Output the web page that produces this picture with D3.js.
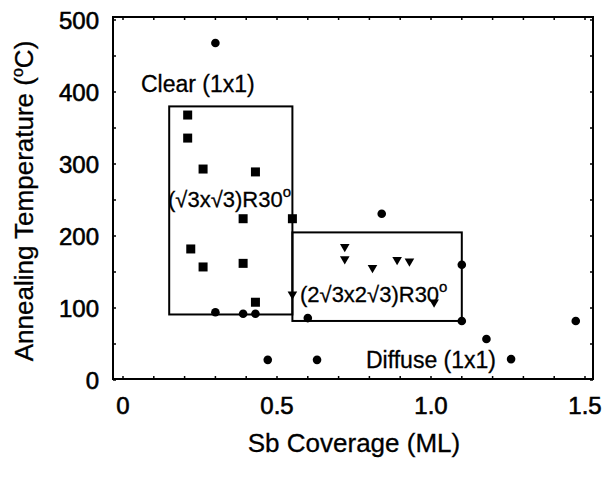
<!DOCTYPE html>
<html><head><meta charset="utf-8">
<script src="https://cdn.jsdelivr.net/npm/d3@7"></script>
<style>
body{margin:0;background:#fff;}
text{font-family:"Liberation Sans",Arial,Helvetica,sans-serif;fill:#000;stroke:#000;stroke-width:0.3px;}
</style></head>
<body><svg id="c" width="608" height="479"></svg>
<script>
// ---- data ----
const xTickValues = [0, 0.5, 1.0, 1.5];
const xTickLabels = ["0", "0.5", "1.0", "1.5"];
const yTickValues = [0, 100, 200, 300, 400, 500];
const yTickLabels = ["0", "100", "200", "300", "400", "500"];

// (√3x√3)R30° phase – squares
const sqX = [0.21, 0.21, 0.26, 0.43, 0.39, 0.55, 0.22, 0.26, 0.39, 0.43];
const sqT = [368, 336, 293, 289, 224, 224, 182, 157, 162, 108];
// (2√3x2√3)R30° phase – down triangles
const triX = [0.55, 0.72, 0.72, 0.81, 0.89, 0.93, 1.01];
const triT = [119, 185, 168, 156, 167, 165, 108];
// Diffuse (1x1) – circles
const cirX = [0.30, 0.30, 0.39, 0.43, 0.60, 0.84, 1.10, 1.10, 0.47, 0.63, 1.18, 1.26, 1.47];
const cirT = [468, 94, 92, 92, 86, 231, 160, 82, 28, 28, 57, 29, 82];

// phase boxes [x0, x1, T0, T1]
const boxSqrt3 = [0.15, 0.55, 91, 380];
const box2Sqrt3 = [0.55, 1.10, 82, 205];

const xTitle = "Sb Coverage (ML)";
const yTitle = "Annealing Temperature (";

// ---- layout ----
const svg = d3.select("#c");
const frame = {l:113, r:593, t:17, b:379};
const x = d3.scaleLinear().domain([0, 1.5]).range([123, 585]);
const y = d3.scaleLinear().domain([0, 500]).range([380, 20]);

// frame
svg.append("rect").attr("x", frame.l).attr("y", frame.t)
  .attr("width", frame.r - frame.l).attr("height", frame.b - frame.t)
  .attr("fill", "none").attr("stroke", "#000").attr("stroke-width", 2);

// small inward ticks
const g = svg.append("g");
d3.range(0, 501, 50).forEach(v => {
  g.append("line").attr("x1", frame.l).attr("x2", frame.l + 3)
    .attr("y1", y(v)).attr("y2", y(v)).attr("stroke", "#000").attr("stroke-width", 1.5);
  g.append("line").attr("x1", frame.r).attr("x2", frame.r - 3)
    .attr("y1", y(v)).attr("y2", y(v)).attr("stroke", "#000").attr("stroke-width", 1.5);
});
d3.range(0, 1.51, 0.1).forEach(v => {
  g.append("line").attr("x1", x(v)).attr("x2", x(v))
    .attr("y1", frame.b).attr("y2", frame.b - 3).attr("stroke", "#000").attr("stroke-width", 1.5);
  g.append("line").attr("x1", x(v)).attr("x2", x(v))
    .attr("y1", frame.t).attr("y2", frame.t + 3).attr("stroke", "#000").attr("stroke-width", 1.5);
});

// tick labels
svg.append("g").selectAll("text").data(yTickValues).join("text")
  .attr("x", 99).attr("y", d => y(d) + 9)
  .attr("text-anchor", "end").attr("font-size", 24)
  .style("stroke-width", "0.6px")
  .text((d, i) => yTickLabels[i]);
svg.append("g").selectAll("text").data(xTickValues).join("text")
  .attr("x", d => x(d)).attr("y", 414)
  .attr("text-anchor", "middle").attr("font-size", 24)
  .style("stroke-width", "0.6px")
  .text((d, i) => xTickLabels[i]);

// axis titles
svg.append("text").attr("x", 354).attr("y", 452)
  .attr("text-anchor", "middle").attr("font-size", 26).text(xTitle);
const yt = svg.append("text").attr("transform", "translate(33,201) rotate(-90)")
  .attr("text-anchor", "middle").attr("font-size", 26);
yt.append("tspan").text(yTitle);
yt.append("tspan").attr("font-size", 16).attr("dy", -10).text("o");
yt.append("tspan").attr("dy", 10).text("C)");

// phase boxes
[boxSqrt3, box2Sqrt3].forEach(b => {
  svg.append("rect").attr("x", x(b[0])).attr("y", y(b[3]))
    .attr("width", x(b[1]) - x(b[0])).attr("height", y(b[2]) - y(b[3]))
    .attr("fill", "none").attr("stroke", "#000").attr("stroke-width", 2);
});

// markers
svg.append("g").selectAll("rect").data(sqX).join("rect")
  .attr("x", (d) => x(d) - 4.5).attr("y", (d, i) => y(sqT[i]) - 4.5)
  .attr("width", 9).attr("height", 9).attr("fill", "#000");
const tri = d3.symbol().type(d3.symbolTriangle).size(40);
svg.append("g").selectAll("path").data(triX).join("path")
  .attr("d", tri)
  .attr("transform", (d, i) => `translate(${x(d)},${y(triT[i])}) rotate(180)`)
  .attr("fill", "#000");
svg.append("g").selectAll("circle").data(cirX).join("circle")
  .attr("cx", d => x(d)).attr("cy", (d, i) => y(cirT[i])).attr("r", 4.3)
  .attr("fill", "#000");

// annotations
function label(txt, xx, yy, sup, fs) {
  const t = svg.append("text").attr("x", xx).attr("y", yy).attr("font-size", fs);
  t.append("tspan").text(txt);
  if (sup) t.append("tspan").attr("font-size", 15).attr("dy", -10).text("o");
}
label("Clear (1x1)", 141, 92, false, 23);
label("(\u221A3x\u221A3)R30", 168, 207, true, 22);
label("(2\u221A3x2\u221A3)R30", 300, 302, true, 22);
label("Diffuse (1x1)", 366, 368, false, 23);
</script>
</body></html>
